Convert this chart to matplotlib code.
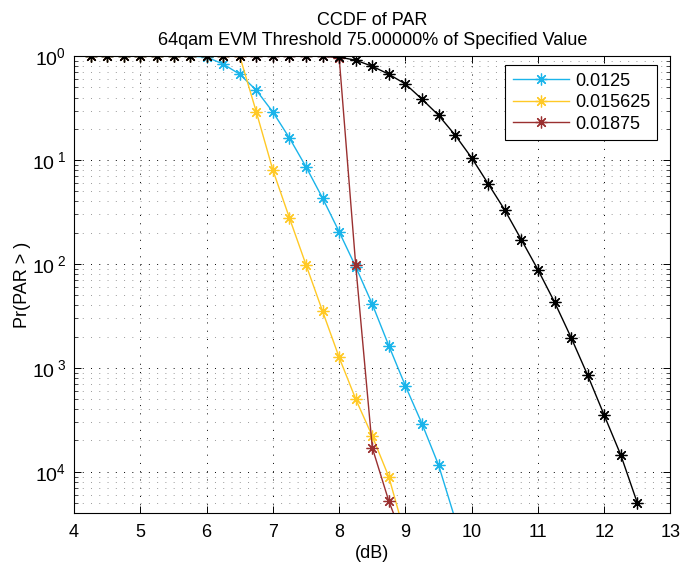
import matplotlib.pyplot as plt
from matplotlib.ticker import FixedLocator, LogLocator, NullFormatter
import numpy as np

plt.rcParams['font.family'] = ['Liberation Sans', 'DejaVu Sans']
plt.rcParams['mathtext.fontset'] = 'custom'
plt.rcParams['mathtext.rm'] = 'Liberation Sans'
plt.rcParams['mathtext.it'] = 'Liberation Sans'

# PAR en dB (paso 0.25)
x_ref = [4.25, 4.5, 4.75, 5.0, 5.25, 5.5, 5.75, 6.0, 6.25, 6.5, 6.75, 7.0,
         7.25, 7.5, 7.75, 8.0, 8.25, 8.5, 8.75, 9.0, 9.25, 9.5, 9.75, 10.0,
         10.25, 10.5, 10.75, 11.0, 11.25, 11.5, 11.75, 12.0, 12.25, 12.5]
y_ref = [1, 1, 1, 1, 1, 1, 1, 1, 1, 1, 1, 1, 1, 1, 1, 0.98, 0.915, 0.80,
         0.67, 0.54, 0.386, 0.27, 0.174, 0.105, 0.059, 0.033, 0.0171, 0.0088,
         0.0043, 0.00196, 8.5e-4, 3.5e-4, 1.45e-4, 5.0e-5]

x_a = [4.25, 4.5, 4.75, 5.0, 5.25, 5.5, 5.75, 6.0, 6.25, 6.5, 6.75, 7.0,
       7.25, 7.5, 7.75, 8.0, 8.25, 8.5, 8.75, 9.0, 9.25, 9.5, 9.75]
y_a = [1, 1, 1, 1, 1, 1, 1, 0.98, 0.84, 0.67, 0.47, 0.29, 0.163, 0.086,
       0.043, 0.0204, 0.0094, 0.0041, 0.00163, 6.7e-4, 2.9e-4, 1.16e-4, 3.5e-5]

x_b = [4.25, 4.5, 4.75, 5.0, 5.25, 5.5, 5.75, 6.0, 6.25, 6.5, 6.75, 7.0,
       7.25, 7.5, 7.75, 8.0, 8.25, 8.5, 8.75, 9.0]
y_b = [1, 1, 1, 1, 1, 1, 1, 1, 1, 1, 0.29, 0.080, 0.0277, 0.0098, 0.0035,
       0.00126, 5.0e-4, 2.2e-4, 8.9e-5, 2.4e-5]

x_c = [4.25, 4.5, 4.75, 5.0, 5.25, 5.5, 5.75, 6.0, 6.25, 6.5, 6.75, 7.0,
       7.25, 7.5, 7.75, 8.0, 8.25, 8.5, 8.75, 9.0]
y_c = [1, 1, 1, 1, 1, 1, 1, 1, 1, 1, 1, 1, 1, 1, 1, 0.97, 0.0097, 1.7e-4,
       5.2e-5, 2.0e-5]

etiquetas = ['0.0125', '0.015625', '0.01875']
colores = ['#1ab4ea', '#ffc926', '#9a3030']

yticks = [1e-4, 1e-3, 1e-2, 1e-1, 1]
ytick_labels = [r'$10^{4}$', r'$10^{\;3}$', r'$10^{\;2}$', r'$10^{\;1}$', r'$10^{0}$']
xticks = [4, 5, 6, 7, 8, 9, 10, 11, 12, 13]

fig = plt.figure(figsize=(6.8, 5.62), dpi=100)
ax = fig.add_axes([0.109, 0.087, 0.877, 0.813])

star = (8, 2, 0)
for xs, ys, lab, c in zip([x_a, x_b, x_c], [y_a, y_b, y_c], etiquetas, colores):
    ax.plot(xs, ys, color=c, lw=1.0, marker=star, ms=8.5, mew=0.9, label=lab)
ax.plot(x_ref, y_ref, color='black', lw=1.0, marker=star, ms=8.5, mew=0.9,
        label='_nolegend_')

ax.set_yscale('log')
ax.set_xlim(4, 13)
ax.set_ylim(4.0e-5, 1)
ax.set_xticks(xticks)
ax.set_xticklabels([str(t) for t in xticks], fontsize=13)
ax.yaxis.set_major_locator(FixedLocator(yticks))
ax.set_yticklabels(ytick_labels, fontsize=14)
ax.yaxis.set_minor_locator(LogLocator(base=10, subs=np.arange(2, 10)))
ax.yaxis.set_minor_formatter(NullFormatter())

grid_ls = (0, (1, 7.5))
ax.grid(True, which='major', axis='both', color='black', lw=0.7, linestyle=grid_ls)
ax.grid(True, which='minor', axis='y', color='#999999', lw=0.7, linestyle=grid_ls)

ax.tick_params(which='both', direction='in', top=True, right=True)
ax.tick_params(which='major', length=5, width=0.7)
ax.tick_params(which='minor', length=3, width=0.5)
ax.tick_params(axis='y', pad=6)
ax.tick_params(axis='x', pad=8)
for s in ax.spines.values():
    s.set_linewidth(0.8)

ax.set_xlabel('(dB)', fontsize=13, labelpad=3)
ax.set_ylabel('Pr(PAR > )', fontsize=13)
ax.yaxis.set_label_coords(-0.072, 0.5)
ax.set_title('CCDF of PAR\n64qam EVM Threshold 75.00000% of Specified Value',
             fontsize=13, linespacing=1.25, pad=8)

leg = ax.legend(loc='upper right', bbox_to_anchor=(0.978, 0.98), fontsize=13,
                fancybox=False, framealpha=1, edgecolor='black',
                handlelength=3.1, borderpad=0.4, labelspacing=0.25,
                handletextpad=0.35, borderaxespad=0.0)
leg.get_frame().set_linewidth(0.8)

fig.savefig('out.png', dpi=100)
